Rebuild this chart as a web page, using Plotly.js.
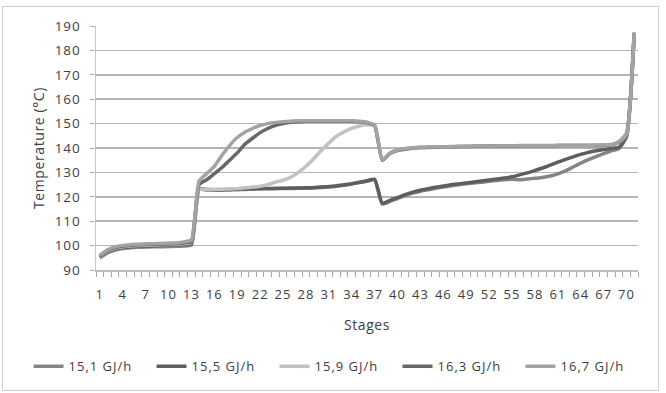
<!DOCTYPE html>
<html>
<head>
<meta charset="utf-8">
<script src="https://cdn.plot.ly/plotly-3.0.1.min.js"></script>
<style>
html, body { margin: 0; padding: 0; background: #fff; }
#frame { position: absolute; left: 2px; top: 6px; width: 657px; height: 385px; border: 1px solid #d0d0d0; box-sizing: border-box; }
#chart { position: absolute; left: 0; top: 0; width: 666px; height: 393px; }
#chart .xtick text, #chart .ytick text, #chart .legendtext { letter-spacing: 1px; }
#chart .g-ytitle text, #chart .g-xtitle text { letter-spacing: 0.6px; }
</style>
</head>
<body>
<div id="frame"></div>
<div id="chart"></div>
<script>
const stages = Array.from({length: 71}, (_, i) => i + 1);
const tickStages = [1,4,7,10,13,16,19,22,25,28,31,34,37,40,43,46,49,52,55,58,61,64,67,70];
const seriesNames = ['15,1 GJ/h', '15,5 GJ/h', '15,9 GJ/h', '16,3 GJ/h', '16,7 GJ/h'];

// 71 values each: stages 1-10, 11-20, 21-30, 31-40, 41-50, 51-60, 61-70, 71
const t151 = [
  95.0, 97.0, 98.2, 98.8, 99.1, 99.3, 99.4, 99.5, 99.5, 99.6,
  99.7, 99.8,100.2,123.0,122.8,122.7,122.7,122.8,122.9,123.0,
  123.1,123.2,123.3,123.3,123.4,123.4,123.5,123.5,123.6,123.8,
  124.0,124.3,124.7,125.2,125.8,126.4,127.0,117.0,118.1,119.3,
  120.5,121.5,122.3,122.9,123.5,124.0,124.5,124.9,125.3,125.7,
  126.0,126.4,126.7,127.0,127.2,127.0,127.3,127.6,127.9,128.5,
  129.4,130.6,132.2,133.8,135.2,136.5,137.7,138.8,139.8,144.5,
  187.0];
const t155 = [
  95.3, 97.4, 98.6, 99.2, 99.5, 99.7, 99.8, 99.9,100.0,100.1,
  100.2,100.4,100.8,123.2,123.0,122.9,122.9,123.0,123.1,123.2,
  123.3,123.4,123.4,123.5,123.5,123.6,123.6,123.7,123.8,124.0,
  124.2,124.5,124.9,125.4,126.0,126.6,127.2,117.4,118.5,119.7,
  120.9,121.9,122.7,123.3,123.9,124.4,124.9,125.3,125.7,126.1,
  126.5,126.9,127.3,127.7,128.2,129.0,129.8,130.8,131.8,133.0,
  134.2,135.3,136.4,137.4,138.2,138.9,139.4,139.8,140.3,145.0,
  187.0];
const t159 = [
  95.5, 97.7, 98.9, 99.5, 99.8,100.0,100.1,100.2,100.3,100.4,
  100.5,100.8,101.3,123.0,123.0,123.0,123.1,123.2,123.4,123.7,
  124.0,124.3,125.0,126.0,126.8,128.0,130.0,132.5,135.5,139.0,
  142.0,144.8,146.6,148.0,149.0,149.5,149.0,135.0,137.6,138.9,
  139.5,139.9,140.1,140.2,140.3,140.4,140.5,140.5,140.6,140.6,
  140.7,140.7,140.7,140.8,140.8,140.8,140.8,140.8,140.8,140.9,
  140.9,140.9,140.9,141.0,141.0,141.0,141.0,141.2,142.3,145.5,
  187.0];
const t163 = [
  95.7, 98.0, 99.2, 99.8,100.1,100.3,100.4,100.5,100.6,100.7,
  100.8,101.1,101.7,125.0,127.0,129.5,132.0,135.0,138.0,141.5,
  144.0,146.3,148.0,149.3,150.0,150.5,150.8,151.0,151.0,151.0,
  151.0,151.0,151.0,151.0,150.8,150.4,149.2,135.0,137.8,139.0,
  139.6,140.0,140.2,140.3,140.4,140.5,140.5,140.6,140.6,140.7,
  140.7,140.8,140.8,140.8,140.8,140.9,140.9,140.9,140.9,140.9,
  141.0,141.0,141.0,141.0,141.0,141.0,141.1,141.3,142.5,146.0,
  187.0];
const t167 = [
  96.0, 98.3, 99.5,100.1,100.4,100.6,100.7,100.8,100.9,101.0,
  101.1,101.5,102.3,126.5,129.5,132.5,137.0,141.0,144.3,146.5,
  148.0,149.3,150.0,150.5,150.8,151.0,151.2,151.2,151.2,151.2,
  151.2,151.2,151.2,151.2,151.0,150.6,149.4,135.3,138.0,139.2,
  139.8,140.1,140.3,140.4,140.5,140.5,140.6,140.7,140.7,140.8,
  140.8,140.8,140.9,140.9,140.9,141.0,141.0,141.0,141.0,141.0,
  141.1,141.1,141.1,141.1,141.1,141.2,141.2,141.4,142.7,146.0,
  187.5];

const seriesValues = [t151, t155, t159, t163, t167];
const seriesColors = ['#858585', '#5e5e5e', '#c2c2c2', '#676767', '#a3a3a3'];

const traces = seriesValues.map((vals, i) => ({
  x: stages,
  y: vals,
  name: seriesNames[i],
  type: 'scatter',
  mode: 'lines',
  line: {color: seriesColors[i], width: 3.5, shape: 'spline', smoothing: 0.5}
}));

const fontFam = '"Open Sans", "DejaVu Sans", sans-serif';
const layout = {
  width: 666, height: 393,
  margin: {l: 96, r: 28, t: 26, b: 120},
  paper_bgcolor: 'rgba(0,0,0,0)',
  plot_bgcolor: 'rgba(0,0,0,0)',
  font: {family: fontFam, size: 13, color: '#404040'},
  showlegend: true,
  legend: {orientation: 'h', x: -0.1245, xanchor: 'left', y: -0.333, yanchor: 'top',
    font: {size: 13, color: '#404040'}, itemwidth: 30,
    entrywidth: 78, entrywidthmode: 'pixels'},
  xaxis: {
    range: [0.5, 71.5],
    tickmode: 'array', tickvals: tickStages, ticktext: tickStages.map(String),
    ticks: '', showgrid: false, zeroline: false,
    showline: true, linecolor: '#bdbdbd', linewidth: 1.5,
    tickfont: {size: 13, color: '#404040'}, ticklabelstandoff: 12,
    minor: {tick0: 0.5, dtick: 1, ticks: 'outside', ticklen: 5, tickcolor: '#a8a8a8', tickwidth: 1, showgrid: false},
    title: {text: 'Stages', font: {size: 14, color: '#404040'}, standoff: 18}
  },
  yaxis: {
    range: [90, 190], dtick: 10, tick0: 90,
    ticks: 'outside', ticklen: 5, tickcolor: '#b0b0b0',
    showgrid: true, gridcolor: '#b5b5b5', gridwidth: 1.5,
    zeroline: false, showline: true, linecolor: '#c8c8c8', linewidth: 1.5,
    tickfont: {size: 13.5, color: '#404040'}, ticklabelstandoff: 6,
    title: {text: 'Temperature (°C)', font: {size: 14, color: '#404040'}, standoff: 9}
  }
};

Plotly.newPlot('chart', traces, layout, {staticPlot: true, displayModeBar: false});
</script>
</body>
</html>
